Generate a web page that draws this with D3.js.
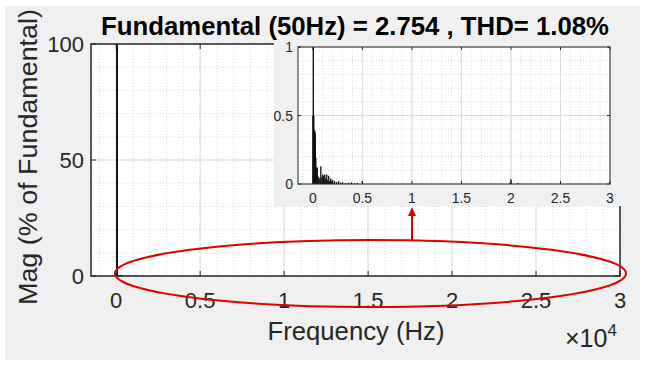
<!DOCTYPE html>
<html>
<head>
<meta charset="utf-8">
<script src="https://cdn.jsdelivr.net/npm/d3@7"></script>
<style>
  body { margin: 0; background: #fff; }
  text { font-family: "Liberation Sans", Arial, sans-serif; }
</style>
</head>
<body>
<div id="chart-area"></div>
<script>
// spectrum values (Hz, % of fundamental)
const harmonicFreqs = [0, 50, 100, 150, 200, 250, 300, 350, 400, 450, 500, 600, 700, 800, 900, 1000,
  1100, 1200, 1300, 1400, 1500, 1600, 1700, 1800, 1900, 2000, 2200, 2400, 2600, 2800, 3000,
  3300, 3600, 3900, 4200, 4500, 5000, 19900, 20000, 20700];
const harmonicMags = [0.50, 100, 0.50, 0.39, 0.39, 0.37, 0.19, 0.12, 0.09, 0.12, 0.06, 0.05, 0.04, 0.13, 0.05, 0.07,
  0.06, 0.07, 0.04, 0.07, 0.03, 0.06, 0.02, 0.04, 0.02, 0.03, 0.02, 0.015, 0.02, 0.01, 0.012,
  0.008, 0.01, 0.012, 0.006, 0.008, 0.022, 0.01, 0.035, 0.008];

const xTicks = [0, 5000, 10000, 15000, 20000, 25000, 30000];
const xTickLabels = ['0', '0.5', '1', '1.5', '2', '2.5', '3'];
const yTicks = [0, 50, 100];
const insetYTicks = [0, 0.5, 1];
const insetYLabels = ['0', '0.5', '1'];

const titleText = 'Fundamental (50Hz) = 2.754 , THD= 1.08%';

const W = 645, H = 368;
const main = { left: 91, right: 620, top: 44, bottom: 276 };
const inset = { left: 298, right: 610, top: 47, bottom: 184 };

const data = harmonicFreqs.map((f, i) => ({ f, m: harmonicMags[i] }));

const svg = d3.select('#chart-area').append('svg')
  .attr('width', W).attr('height', H);

// figure background
svg.append('rect').attr('x', 5).attr('y', 6).attr('width', 635).attr('height', 354).attr('fill', '#f0f0f0');

function drawAxes(g, box, x, y, opts) {
  g.append('rect')
    .attr('x', box.left).attr('y', box.top)
    .attr('width', box.right - box.left).attr('height', box.bottom - box.top)
    .attr('fill', '#fff');

  // minor grid
  const gm = g.append('g').attr('stroke', '#cfcfcf').attr('stroke-width', 0.8).attr('stroke-dasharray', '1,2');
  gm.selectAll('.vx').data(opts.xMinor).enter().append('line')
    .attr('x1', d => x(d)).attr('x2', d => x(d)).attr('y1', box.top).attr('y2', box.bottom);
  gm.selectAll('.hy').data(opts.yMinor).enter().append('line')
    .attr('y1', d => y(d)).attr('y2', d => y(d)).attr('x1', box.left).attr('x2', box.right);

  // major grid
  const gM = g.append('g').attr('stroke', '#dcdcdc').attr('stroke-width', 1);
  gM.selectAll('.vx').data(opts.xTicks).enter().append('line')
    .attr('x1', d => x(d)).attr('x2', d => x(d)).attr('y1', box.top).attr('y2', box.bottom);
  gM.selectAll('.hy').data(opts.yTicks).enter().append('line')
    .attr('y1', d => y(d)).attr('y2', d => y(d)).attr('x1', box.left).attr('x2', box.right);

  // bars
  const clipId = 'clip' + opts.id;
  g.append('clipPath').attr('id', clipId).append('rect')
    .attr('x', box.left).attr('y', box.top)
    .attr('width', box.right - box.left).attr('height', box.bottom - box.top);
  g.append('g').attr('clip-path', `url(#${clipId})`)
    .selectAll('line').data(data).enter().append('line')
    .attr('x1', d => x(d.f)).attr('x2', d => x(d.f))
    .attr('y1', y(0)).attr('y2', d => y(d.m))
    .attr('stroke', '#111').attr('stroke-width', opts.barWidth);

  // ticks (inward, both sides)
  const tk = g.append('g').attr('stroke', '#262626').attr('stroke-width', 1);
  opts.xTicks.forEach(d => {
    tk.append('line').attr('x1', x(d)).attr('x2', x(d)).attr('y1', box.bottom).attr('y2', box.bottom - opts.tickLen);
    tk.append('line').attr('x1', x(d)).attr('x2', x(d)).attr('y1', box.top).attr('y2', box.top + opts.tickLen);
  });
  opts.yTicks.forEach(d => {
    tk.append('line').attr('y1', y(d)).attr('y2', y(d)).attr('x1', box.left).attr('x2', box.left + opts.tickLen);
    tk.append('line').attr('y1', y(d)).attr('y2', y(d)).attr('x1', box.right).attr('x2', box.right - opts.tickLen);
  });

  // box
  g.append('rect')
    .attr('x', box.left).attr('y', box.top)
    .attr('width', box.right - box.left).attr('height', box.bottom - box.top)
    .attr('fill', 'none').attr('stroke', '#262626').attr('stroke-width', opts.boxWidth);

  // tick labels
  g.selectAll('.xl').data(opts.xTicks).enter().append('text')
    .attr('x', d => x(d)).attr('y', box.bottom + opts.xLabelDy)
    .attr('text-anchor', 'middle').attr('font-size', opts.fontSize).attr('fill', '#262626')
    .text((d, i) => opts.xLabels[i]);
  g.selectAll('.yl').data(opts.yTicks).enter().append('text')
    .attr('x', box.left - opts.yLabelDx).attr('y', d => y(d))
    .attr('dy', '0.36em')
    .attr('text-anchor', 'end').attr('font-size', opts.fontSize).attr('fill', '#262626')
    .text((d, i) => opts.yLabels[i]);
}

// main axes
const x = d3.scaleLinear().domain([-1500, 30000]).range([main.left, main.right]);
const y = d3.scaleLinear().domain([0, 100]).range([main.bottom, main.top]);
const gMain = svg.append('g');
drawAxes(gMain, main, x, y, {
  id: 'main',
  xTicks, xLabels: xTickLabels,
  yTicks, yLabels: yTicks.map(String),
  xMinor: d3.range(-1000, 30001, 1000),
  yMinor: d3.range(10, 100, 10),
  tickLen: 5, boxWidth: 1.5, barWidth: 2,
  fontSize: 22, xLabelDy: 32, yLabelDx: 7
});

// inset panel (figure-coloured backing, hides the main box behind it)
svg.append('rect').attr('x', 274).attr('y', 40).attr('width', 348).attr('height', 166).attr('fill', '#f0f0f0');

const xi = d3.scaleLinear().domain([-1500, 30000]).range([inset.left, inset.right]);
const yi = d3.scaleLinear().domain([0, 1]).range([inset.bottom, inset.top]);
const gInset = svg.append('g');
drawAxes(gInset, inset, xi, yi, {
  id: 'inset',
  xTicks, xLabels: xTickLabels,
  yTicks: insetYTicks, yLabels: insetYLabels,
  xMinor: d3.range(-1000, 30001, 1000),
  yMinor: d3.range(0.1, 1, 0.1),
  tickLen: 3, boxWidth: 1, barWidth: 1.3,
  fontSize: 14, xLabelDy: 19, yLabelDx: 5
});

// title
svg.append('text')
  .attr('x', 355).attr('y', 35)
  .attr('text-anchor', 'middle')
  .attr('font-size', 25).attr('font-weight', 'bold').attr('fill', '#000')
  .attr('textLength', 508).attr('lengthAdjust', 'spacingAndGlyphs')
  .text(titleText);

// y label
svg.append('text')
  .attr('transform', `translate(37, ${(main.top + main.bottom) / 2 - 3}) rotate(-90)`)
  .attr('text-anchor', 'middle')
  .attr('font-size', 26).attr('fill', '#262626')
  .attr('textLength', 296).attr('lengthAdjust', 'spacingAndGlyphs')
  .text('Mag (% of Fundamental)');

// x label
svg.append('text')
  .attr('x', 356).attr('y', 340)
  .attr('text-anchor', 'middle')
  .attr('font-size', 25).attr('fill', '#262626')
  .attr('textLength', 177).attr('lengthAdjust', 'spacingAndGlyphs')
  .text('Frequency (Hz)');

// exponent
const ex = svg.append('text')
  .attr('x', 565).attr('y', 347)
  .attr('font-size', 25).attr('fill', '#262626');
ex.append('tspan').text('\u00d710');
ex.append('tspan').attr('dy', -11).attr('font-size', 17).text('4');

// red annotation
svg.append('ellipse')
  .attr('cx', 370.5).attr('cy', 273.5).attr('rx', 255.5).attr('ry', 33.5)
  .attr('fill', 'none').attr('stroke', '#e00000').attr('stroke-width', 2);
svg.append('line')
  .attr('x1', 412).attr('x2', 412).attr('y1', 240).attr('y2', 214)
  .attr('stroke', '#e00000').attr('stroke-width', 2);
svg.append('path')
  .attr('d', 'M412,207 L408,216 L416,216 Z')
  .attr('fill', '#e00000');
</script>
</body>
</html>
